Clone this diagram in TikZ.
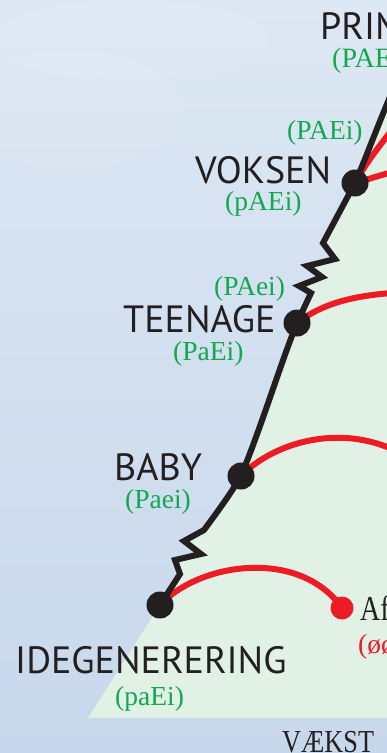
\documentclass[tikz,border=0pt]{standalone}
\usepackage{fontspec}
\setmainfont{Liberation Serif}
\newfontfamily\lblsans{PT Sans}
\definecolor{bgtop}{RGB}{222,232,244}
\definecolor{bgmid}{RGB}{210,223,239}
\definecolor{bgbot}{RGB}{200,216,236}
\definecolor{greenbg}{RGB}{226,241,229}
\definecolor{spineblack}{RGB}{35,31,32}
\definecolor{arcred}{RGB}{237,28,36}
\definecolor{codegreen}{RGB}{18,168,80}
\tikzset{
  spine/.style={draw=spineblack,line width=6pt,line join=miter,miter limit=10},
  arc/.style={draw=arcred,line width=6pt},
  bigdot/.style={circle,fill=spineblack,minimum size=27pt,inner sep=0pt},
  reddotst/.style={circle,fill=arcred,minimum size=23pt,inner sep=0pt},
  stage/.style={font=\lblsans\fontsize{38}{38}\selectfont,text=spineblack,anchor=base west,inner sep=0pt},
  code/.style={font=\fontsize{27.5}{27.5}\selectfont,text=codegreen,anchor=base west,inner sep=0pt},
  redcode/.style={font=\fontsize{27.5}{27.5}\selectfont,text=arcred,anchor=base west,inner sep=0pt},
  serifbig/.style={font=\fontsize{35}{35}\selectfont,text=spineblack,anchor=base west,inner sep=0pt}
}
\begin{document}
\begin{tikzpicture}[x=1pt,y=-1pt]
\useasboundingbox (0,0) rectangle (387,753);
\begin{scope}
\clip (0,0) rectangle (387,753);
% background
\shade[top color=bgtop,bottom color=bgbot,middle color=bgmid] (0,0) rectangle (387,753);
\fill[white,opacity=0.07] (70,110) ellipse (110 and 60);
\fill[white,opacity=0.06] (130,40) ellipse (140 and 40);
% green region
\fill[greenbg] (88,718) -- (160,605) -- (180,574) -- (175,560) -- (201,554) -- (184,541) -- (204,530)
  .. controls (215,515) and (230,495) .. (241,476)
  .. controls (262,425) and (280,365) .. (297,323)
  -- (311,293) -- (299,286) -- (322,277) -- (307,266) -- (335,259) -- (323,243) -- (355,183)
  .. controls (365,160) and (378,125) .. (392,92) -- (392,718) -- cycle;
% named points
\coordinate (idgc) at (160,605);
\coordinate (babyc) at (241,476);
\coordinate (teenc) at (297,323);
\coordinate (voksc) at (355,183);
\coordinate (redc) at (342,608);
\coordinate (topend) at (392,92);
\coordinate (babyend) at (392,449);
\coordinate (teenend) at (392,293);
\coordinate (voksendA) at (392,130);
\coordinate (voksendB) at (392,172);
% red arcs
\draw[arc] (idgc) .. controls (200,562) and (300,548) .. (redc);
\draw[arc] (babyc) .. controls (272,444) and (335,424) .. (babyend);
\draw[arc] (teenc) .. controls (320,305) and (350,296) .. (teenend);
\draw[arc] (voksc) .. controls (365,165) and (376,150) .. (voksendA);
\draw[arc] (voksc) -- (voksendB);
% spine
\draw[spine] (idgc) -- (180,574) -- (175,560) -- (201,554) -- (184,541) -- (204,530)
  .. controls (215,515) and (230,495) .. (babyc);
\draw[spine] (babyc) .. controls (262,425) and (280,365) .. (teenc);
\draw[spine] (teenc) -- (311,293) -- (299,286) -- (322,277) -- (307,266) -- (335,259) -- (323,243) -- (voksc);
\draw[spine] (voksc) .. controls (365,160) and (378,125) .. (topend);
% dots
\node[bigdot] (idg) at (idgc) {};
\node[bigdot] (baby) at (babyc) {};
\node[bigdot] (teen) at (teenc) {};
\node[bigdot] (voks) at (voksc) {};
\node[reddotst] (red) at (redc) {};
% labels
\node[stage] (prim) at (320,39) {PRIM};
\node[code,font=\fontsize{28}{28}\selectfont] (primcode) at (332,67) {(PAE};
\node[code] (voksup) at (287,139) {(PAEi)};
\node[stage] (voksen) at (195,183) {VOKSEN};
\node[code] (vokscode) at (225,210) {(pAEi)};
\node[code] (teenup) at (214,295) {(PAei)};
\node[stage] (teenage) at (123,332) {TEENAGE};
\node[code] (teencode) at (173,360) {(PaEi)};
\node[stage] (babylbl) at (114,480) {BABY};
\node[code] (babycode) at (125,508) {(Paei)};
\node[stage] (idegen) at (15,673) {IDEGENERERING};
\node[code] (idegencode) at (115,705) {(paEi)};
\node[serifbig] (af) at (360,620) {\scalebox{0.8}[1]{Af}};
\node[redcode] (afcode) at (358,653) {(øø};
\node[anchor=base west,inner sep=0pt,text=spineblack] (vaekst) at (282,752) {\scalebox{0.82}[1]{\fontsize{32}{32}\selectfont VÆKST}};
\end{scope}
\end{tikzpicture}
\end{document}
